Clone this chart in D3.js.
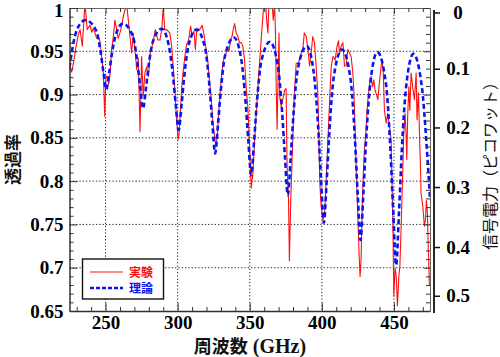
<!DOCTYPE html>
<html><head><meta charset="utf-8">
<script src="https://cdn.jsdelivr.net/npm/d3@7"></script>
<style>
html,body{margin:0;padding:0;background:#fff;}
svg{display:block;}
</style></head>
<body>
<svg id="chart" width="500" height="357"></svg>
<script>
// ---- data ----
const xMajorTicks = [250, 300, 350, 400, 450];
const xMinorTicks = [230,240,260,270,280,290,310,320,330,340,360,370,380,390,410,420,430,440,460,470];
const yMajorTicks = [0.65, 0.7, 0.75, 0.8, 0.85, 0.9, 0.95, 1];
const yTickLabels = ["0.65","0.7","0.75","0.8","0.85","0.9","0.95","1"];
const rightTicks = [0, 0.1, 0.2, 0.3, 0.4, 0.5];
const rightTickLabels = ["0","0.1","0.2","0.3","0.4","0.5"];
// transmission value that each right-axis tick sits at
const rightTickTransmission = [0.9948, 0.9298, 0.8620, 0.7932, 0.7239, 0.6676];

const theoryFreq = [225,228,231,236,
  243.5,246.5,248.5,250.5,252.5,254.5,257.5,262,
  269,272,274,276,278,280,283,289,
  293.7,296.7,298.7,300.7,302.7,304.7,307.7,313,
  319,322,324,326,328,330,333,339,
  344,347,349,351,353,355,358,364,
  369.4,372.4,374.4,376.4,378.4,380.4,383.4,389.5,
  394.4,397.4,399.4,401.4,403.4,405.4,408.4,414,
  419.8,422.8,424.8,426.8,428.8,430.8,433.8,438.5,
  444.5,447.5,449.5,451.5,453.5,455.5,458.5,463.5,
  469.5,472.5,475];
const theoryT = [0.931,0.962,0.978,0.986,
  0.974,0.950,0.926,0.906,0.925,0.948,0.971,0.982,
  0.967,0.938,0.909,0.884,0.907,0.935,0.962,0.976,
  0.958,0.923,0.888,0.859,0.888,0.923,0.958,0.975,
  0.954,0.911,0.868,0.832,0.866,0.906,0.946,0.966,
  0.942,0.894,0.847,0.807,0.846,0.892,0.938,0.961,
  0.934,0.881,0.828,0.784,0.827,0.879,0.930,0.956,
  0.925,0.864,0.803,0.752,0.802,0.862,0.922,0.952,
  0.919,0.853,0.787,0.732,0.786,0.851,0.916,0.949,
  0.912,0.838,0.765,0.703,0.764,0.837,0.910,0.947,
  0.907,0.845,0.78];

const expFreq = [225.0,226.5,228.1,229.5,231.1,232.3,233.9,235.7,237.3,239.2,240.4,241.5,242.7,243.8,245.0,246.1,247.3,248.5,249.4,250.3,
  251.2,252.2,253.1,254.2,255.4,256.5,257.7,258.8,259.9,261.0,262.3,263.5,264.6,265.8,268.1,269.2,270.4,271.6,272.7,273.9,
  275.0,276.1,277.3,278.5,279.8,281.0,282.9,284.5,286.3,287.7,289.0,290.0,291.0,292.3,293.5,294.6,295.8,296.9,297.9,299.0,
  300.3,301.0,302.0,302.8,303.9,305.0,306.2,307.6,309.0,309.9,311.3,312.3,313.3,315.3,317.0,318.5,319.8,321.0,322.0,323.3,
  324.5,325.6,326.5,327.5,328.4,329.3,330.2,331.4,332.6,333.7,334.9,335.6,336.7,337.7,338.5,339.5,340.6,341.8,342.9,344.1,
  345.2,346.4,347.5,348.7,349.9,351.0,352.2,353.3,354.5,355.7,356.8,357.9,359.1,359.8,360.9,361.7,362.6,363.4,364.6,365.5,
  366.3,367.2,367.8,368.4,369.0,369.6,370.3,370.8,371.8,372.9,374.1,375.2,375.9,376.9,377.5,378.3,379.2,380.1,381.0,382.2,
  383.4,384.5,385.7,386.8,387.8,389.2,390.3,391.5,392.6,393.7,394.9,396.0,397.2,397.9,398.6,399.5,400.7,401.9,403.1,404.2,
  405.4,406.5,407.7,409.2,410.6,411.5,412.3,413.4,414.6,415.7,416.8,418.0,419.1,420.3,421.5,422.2,423.1,424.0,424.9,425.8,
  426.5,427.2,427.9,428.6,429.5,430.5,431.4,432.4,433.2,434.1,435.1,436.0,436.9,437.9,438.8,439.9,441.1,441.8,442.6,443.4,
  444.6,445.7,446.9,448.0,449.2,449.9,450.8,451.6,452.4,453.4,454.1,455.0,456.2,456.8,457.7,458.4,458.9,459.5,460.3,461.0,
  461.9,463.0,464.2,465.4,466.0,467.0,467.7,468.4,468.8,470.0,471.1,471.8,472.5,473.2,473.9,474.6];
const expT = [0.931,0.926,0.940,0.955,0.969,0.975,0.956,1.005,0.975,0.980,0.972,0.976,0.971,0.965,0.966,0.962,0.944,0.925,0.875,0.922,
  0.919,0.912,0.923,0.952,0.967,0.986,0.975,0.965,0.971,0.978,0.990,0.998,1.005,0.986,0.948,0.971,0.952,0.929,0.942,0.857,
  0.944,0.898,0.925,0.932,0.921,0.948,0.960,0.975,0.963,0.963,0.975,1.002,0.975,0.975,0.973,0.971,0.956,0.933,0.909,0.878,
  0.848,0.855,0.882,0.909,0.928,0.944,0.958,0.963,0.979,0.969,0.973,0.952,0.976,0.975,0.980,0.967,0.952,0.937,0.917,0.894,
  0.867,0.852,0.840,0.852,0.878,0.898,0.917,0.937,0.944,0.948,0.954,0.950,0.963,0.967,0.975,0.982,0.971,0.967,0.960,0.960,
  0.956,0.940,0.909,0.885,0.840,0.792,0.809,0.844,0.879,0.909,0.936,0.963,0.990,1.005,1.010,0.986,0.971,1.010,1.005,1.005,
  0.986,1.005,0.975,0.905,0.860,0.915,0.971,0.898,0.886,0.894,0.905,0.907,0.817,0.778,0.708,0.771,0.817,0.863,0.902,0.936,
  0.936,0.940,0.948,0.952,0.971,0.967,0.952,0.933,0.948,0.967,0.960,0.933,0.902,0.855,0.798,0.771,0.755,0.763,0.802,0.848,
  0.894,0.932,0.944,0.940,0.956,0.962,0.948,0.956,0.960,0.933,0.933,0.952,0.948,0.944,0.925,0.905,0.855,0.805,0.763,0.717,
  0.690,0.709,0.763,0.802,0.836,0.855,0.882,0.902,0.913,0.921,0.909,0.917,0.905,0.900,0.894,0.913,0.933,0.940,0.925,0.882,
  0.867,0.878,0.863,0.848,0.759,0.667,0.700,0.690,0.656,0.690,0.702,0.748,0.817,0.855,0.878,0.855,0.825,0.874,0.909,0.882,
  0.925,0.909,0.894,0.925,0.871,0.902,0.855,0.817,0.786,0.771,0.748,0.755,0.778,0.763,0.717,0.679];

const legendLabels = ["実験", "理論"];
const xTitleJa = "周波数";
const xTitleUnit = " (GHz)";
const yTitle = "透過率";
const y2Title = "信号電力（ピコワット）";

// ---- layout ----
const svg = d3.select("#chart");
const L = 69.5, R = 430, T = 8, B = 311;
const x = d3.scaleLinear().domain([225, 475]).range([L, R]);
const y = d3.scaleLinear().domain([0.65, 1]).range([B, T]);
const yR = d3.scaleLinear().domain(rightTicks).range(rightTickTransmission.map(y));
const yMinor = d3.range(66, 100).map(v => v / 100).filter(v => Math.abs(v*20 - Math.round(v*20)) > 1e-6);

const SERIF = '"Liberation Serif"';
const CJK = '"Noto Sans CJK JP"';
const axisColor = "#333";

svg.append("rect").attr("width", 500).attr("height", 357).attr("fill", "#fff");

// grid
const grid = svg.append("g").attr("stroke", "#111").attr("stroke-width", 0.9).attr("stroke-dasharray", "1.3,2");
grid.selectAll("line.gx").data(xMajorTicks).join("line")
  .attr("x1", d => x(d)).attr("x2", d => x(d)).attr("y1", T).attr("y2", B);
grid.selectAll("line.gy").data(yMajorTicks.filter(v => v > 0.65 && v < 1)).join("line")
  .attr("y1", d => y(d)).attr("y2", d => y(d)).attr("x1", L).attr("x2", R);

// data
svg.append("clipPath").attr("id", "clip").append("rect")
  .attr("x", L).attr("y", T).attr("width", R - L).attr("height", B - T);
const plot = svg.append("g").attr("clip-path", "url(#clip)");
const expLine = d3.line().x(d => x(d[0])).y(d => y(d[1]));
plot.append("path").datum(expFreq.map((f, i) => [f, expT[i]]))
  .attr("d", expLine).attr("fill", "none").attr("stroke", "#ff1010").attr("stroke-width", 1.1)
  .attr("stroke-linejoin", "round");
const thLine = d3.line().x(d => x(d[0])).y(d => y(d[1])).curve(d3.curveMonotoneX);
plot.append("path").datum(theoryFreq.map((f, i) => [f, theoryT[i]]))
  .attr("d", thLine).attr("fill", "none").attr("stroke", "#0a14f0").attr("stroke-width", 2.6)
  .attr("stroke-dasharray", "5,3");

function styleAxis(g) {
  g.attr("font-family", SERIF).attr("font-size", 19).attr("font-weight", "bold");
  g.selectAll("path.domain").attr("stroke", axisColor).attr("stroke-width", 1.5);
  g.selectAll(".tick line").attr("stroke", axisColor).attr("stroke-width", 1);
  g.selectAll("text").style("font-family", SERIF).style("font-weight", "bold")
    .style("font-size", "19px").attr("fill", "#000");
}

// bottom axis
const gb = svg.append("g").attr("transform", `translate(0,${B})`);
gb.call(d3.axisBottom(x).tickValues(xMajorTicks).tickSizeInner(-8).tickSizeOuter(0).tickPadding(5));
gb.append("g").call(d3.axisBottom(x).tickValues(xMinorTicks).tickSize(-4).tickFormat(""))
  .select("path.domain").remove();
styleAxis(gb);

// top border
const gt = svg.append("g").attr("transform", `translate(0,${T})`);
gt.call(d3.axisTop(x).tickValues(xMajorTicks).tickSizeInner(-6).tickSizeOuter(0).tickFormat(""));
gt.append("g").call(d3.axisTop(x).tickValues(xMinorTicks).tickSize(-4).tickFormat(""))
  .select("path.domain").remove();
styleAxis(gt);
gt.select("path.domain").attr("stroke", "#666").attr("stroke-width", 1);

// left axis
const gl = svg.append("g").attr("transform", `translate(${L},0)`);
gl.call(d3.axisLeft(y).tickValues(yMajorTicks).tickSizeInner(-8).tickSizeOuter(0).tickPadding(6)
  .tickFormat((d, i) => yTickLabels[i]));
gl.append("g").call(d3.axisLeft(y).tickValues(yMinor).tickSize(-4).tickFormat(""))
  .select("path.domain").remove();
styleAxis(gl);
gl.selectAll(".tick text").filter(d => d === 1).attr("dy", "0.45em");

// right border of plot
const gr = svg.append("g").attr("transform", `translate(${R},0)`);
gr.call(d3.axisRight(y).tickValues(yMajorTicks).tickSizeInner(-6).tickSizeOuter(0).tickFormat(""));
gr.append("g").call(d3.axisRight(y).tickValues(yMinor).tickSize(-4).tickFormat(""))
  .select("path.domain").remove();
styleAxis(gr);
gr.select("path.domain").attr("stroke", "#666").attr("stroke-width", 1);

// right secondary axis
const gr2 = svg.append("g").attr("transform", `translate(${R + 4},0)`);
gr2.call(d3.axisRight(yR).tickValues(rightTicks).tickSizeInner(6).tickSizeOuter(0).tickPadding(4)
  .tickFormat((d, i) => rightTickLabels[i]));
gr2.select("path.domain").remove();
gr2.append("line").attr("x1", 0).attr("x2", 0).attr("y1", y(1) + 2).attr("y2", y(0.65) + 2)
  .attr("stroke", "#111").attr("stroke-width", 1.8);
styleAxis(gr2);
gr2.selectAll(".tick line").attr("stroke", "#111").attr("stroke-width", 1.5);
gr2.selectAll("text").attr("text-anchor", "middle").attr("x", 24);

// titles
const xt = svg.append("text").attr("x", 250).attr("y", 353).attr("text-anchor", "middle").attr("fill", "#111");
xt.append("tspan").style("font-family", CJK).style("font-weight", "bold").style("font-size", "18px").text(xTitleJa);
xt.append("tspan").style("font-family", SERIF).style("font-weight", "bold").style("font-size", "20px").text(xTitleUnit);

svg.append("text").attr("transform", `translate(18.5,${(T + B) / 2}) rotate(-90)`)
  .attr("text-anchor", "middle").style("font-family", CJK).style("font-weight", "bold")
  .style("font-size", "17px").attr("fill", "#111").text(yTitle);

svg.append("text").attr("transform", `translate(496,162) rotate(-90)`)
  .attr("text-anchor", "middle").style("font-family", CJK).style("font-weight", "normal")
  .style("font-size", "16px").attr("fill", "#111").text(y2Title);

// legend
const lg = svg.append("g").attr("transform", "translate(82.5,259)");
lg.append("rect").attr("width", 81).attr("height", 40).attr("fill", "#fff")
  .attr("stroke", "#111").attr("stroke-width", 1.4);
const legendColors = ["#ff1010", "#0a14f0"];
const legendDash = [null, "4,2"];
const legendWidth = [1.1, 2.3];
legendLabels.forEach((lab, i) => {
  const yy = 13 + i * 16;
  lg.append("line").attr("x1", 7.5).attr("x2", 40.5).attr("y1", yy).attr("y2", yy)
    .attr("stroke", legendColors[i]).attr("stroke-width", legendWidth[i])
    .attr("stroke-dasharray", legendDash[i]);
  lg.append("text").attr("x", 46.5).attr("y", yy + 5).style("font-family", CJK)
    .style("font-weight", "bold").style("font-size", "12px").attr("fill", legendColors[i]).text(lab);
});
</script>
</body></html>
